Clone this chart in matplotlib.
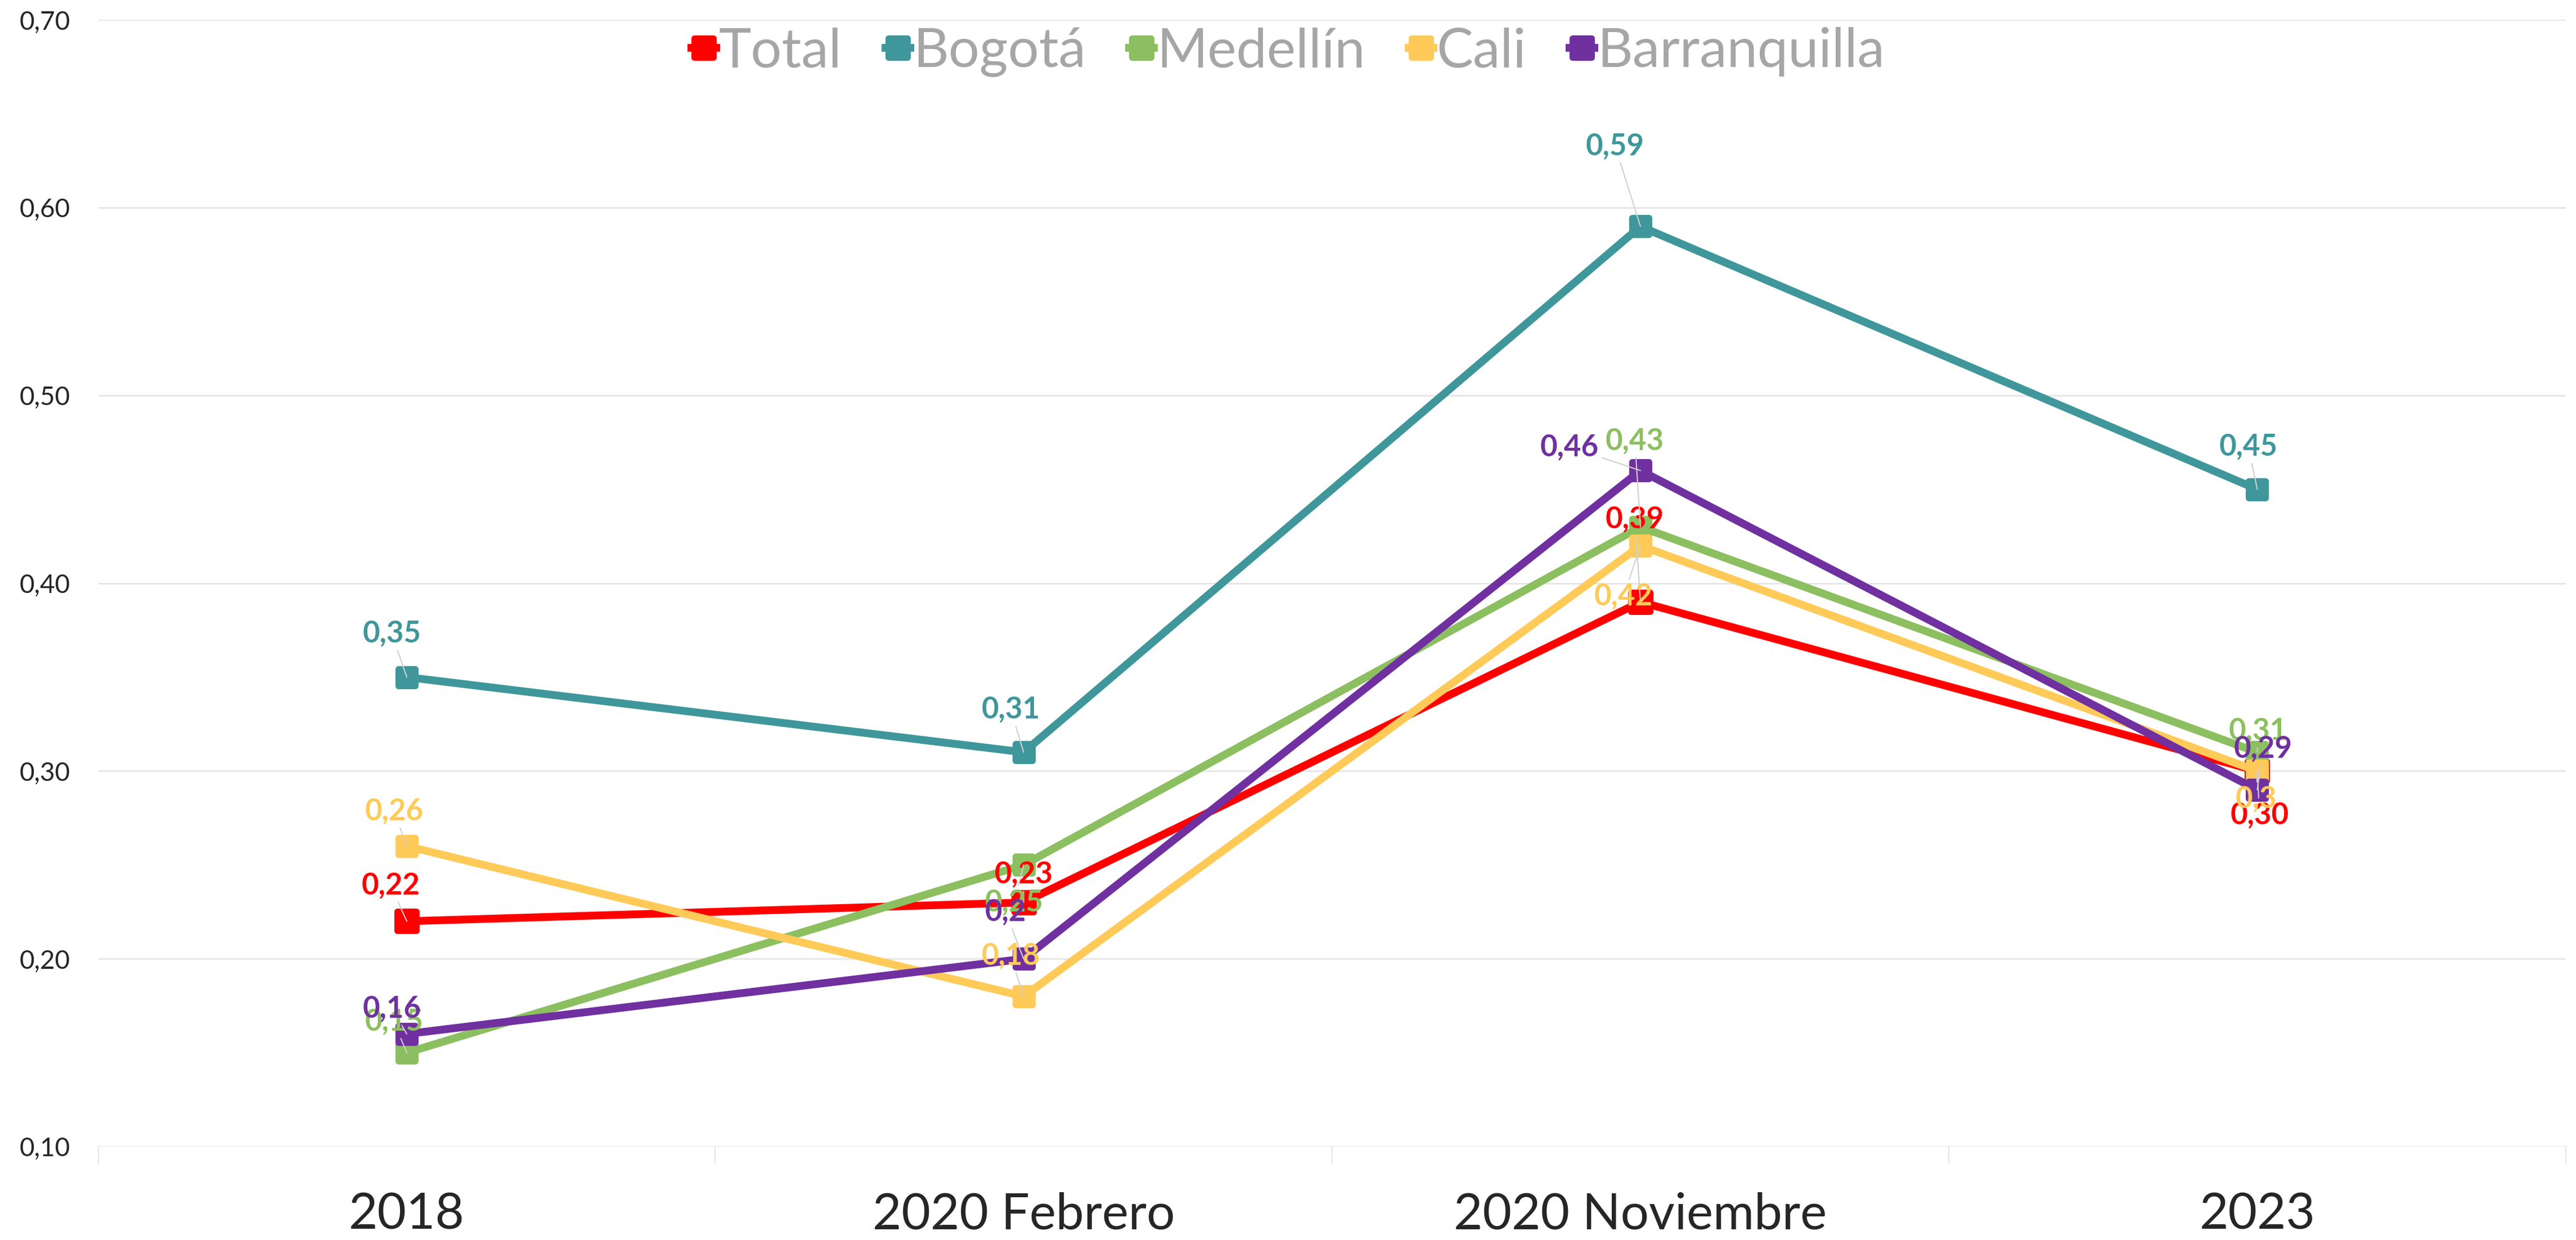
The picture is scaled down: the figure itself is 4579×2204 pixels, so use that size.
import matplotlib
matplotlib.use("Agg")
import matplotlib.pyplot as plt
from matplotlib.markers import MarkerStyle
from matplotlib.ticker import FuncFormatter, FixedLocator

plt.rcParams['font.family'] = ['Lato', 'DejaVu Sans']

periods = ['2018', '2020 Febrero', '2020 Noviembre', '2023']
series_names = ['Total', 'Bogotá', 'Medellín', 'Cali', 'Barranquilla']
colors = ['#FF0000', '#3F979B', '#8CBF60', '#FFCA58', '#7030A0']

total = [0.22, 0.23, 0.39, 0.30]
bogota = [0.35, 0.31, 0.59, 0.45]
medellin = [0.15, 0.25, 0.43, 0.31]
cali = [0.26, 0.18, 0.42, 0.30]
barranquilla = [0.16, 0.20, 0.46, 0.29]

total_labels = ['0,22', '0,23', '0,39', '0,30']
bogota_labels = ['0,35', '0,31', '0,59', '0,45']
medellin_labels = ['0,15', '0,25', '0,43', '0,31']
cali_labels = ['0,26', '0,18', '0,42', '0,3']
barranquilla_labels = ['0,16', '0,2', '0,46', '0,29']

values = [total, bogota, medellin, cali, barranquilla]
labels = [total_labels, bogota_labels, medellin_labels, cali_labels, barranquilla_labels]

# label offsets in pixels (dx right, dy down), mimicking the excel placement
offsets = [
    [(-29, -64), (0, -50), (-10, -147), (4, 78)],
    [(-27, -78), (-23, -76), (-45, -143), (-16, -76)],
    [(-23, -55), (-17, 66), (-10, -153), (1, -38)],
    [(-23, -62), (-23, -72), (-30, 90), (-2, 49)],
    [(-26, -45), (-32, -83), (-126, -42), (10, -73)],
]

DPI = 100
PX = 72.0 / DPI

fig = plt.figure(figsize=(45.79, 22.04), dpi=DPI)
ax = fig.add_axes([0.0382, 0.0753, 0.996 - 0.0382, 0.984 - 0.0753])

xs = list(range(len(periods)))
marker = MarkerStyle('s', joinstyle='round')
handles = []
for i, (name, vals) in enumerate(zip(series_names, values)):
    ms = 24 if i == 0 else 21
    h, = ax.plot(xs, vals, color=colors[i], lw=10, marker=marker, ms=ms,
                 mec=colors[i], mew=8, solid_joinstyle='round', label=name,
                 zorder=3 + i)
    handles.append(h)

for i, vals in enumerate(values):
    for j, v in enumerate(vals):
        dx, dy = offsets[i][j]
        ax.annotate(labels[i][j], (xs[j], v), xytext=(dx * PX, -dy * PX),
                    textcoords='offset points', ha='center', va='center',
                    fontsize=38, fontweight='bold', color=colors[i], zorder=20,
                    arrowprops=dict(arrowstyle='-', color='#D0D0D0', lw=1.5,
                                    shrinkA=2, shrinkB=0))

ax.set_xlim(-0.5, 3.5)
ax.set_ylim(0.10, 0.70)
ax.set_yticks([0.1, 0.2, 0.3, 0.4, 0.5, 0.6, 0.7])
ax.yaxis.set_major_formatter(FuncFormatter(lambda v, p: f"{v:.2f}".replace('.', ',')))
ax.grid(axis='y', color='#E6E6E6', lw=2)
ax.set_axisbelow(True)
for s in ax.spines.values():
    s.set_visible(False)

ax.set_xticks(xs)
ax.set_xticklabels(periods)
ax.xaxis.set_minor_locator(FixedLocator([-0.5, 0.5, 1.5, 2.5, 3.5]))
ax.tick_params(axis='x', which='major', length=0, pad=58, labelsize=64, labelcolor='#262626')
ax.tick_params(axis='x', which='minor', length=22, width=1.5, color='#E6E6E6')
ax.tick_params(axis='y', length=0, pad=36, labelsize=33, labelcolor='#262626')

leg = fig.legend(handles=handles, loc='center', bbox_to_anchor=(0.5, 0.958), ncol=5,
                 frameon=False, fontsize=70, handlelength=0.45, handletextpad=0.05,
                 columnspacing=0.8, labelcolor='#A6A6A6')
for lh in leg.legend_handles:
    lh.set_markersize(24)
    lh.set_linewidth(10)

fig.savefig('out.png', dpi=DPI)
